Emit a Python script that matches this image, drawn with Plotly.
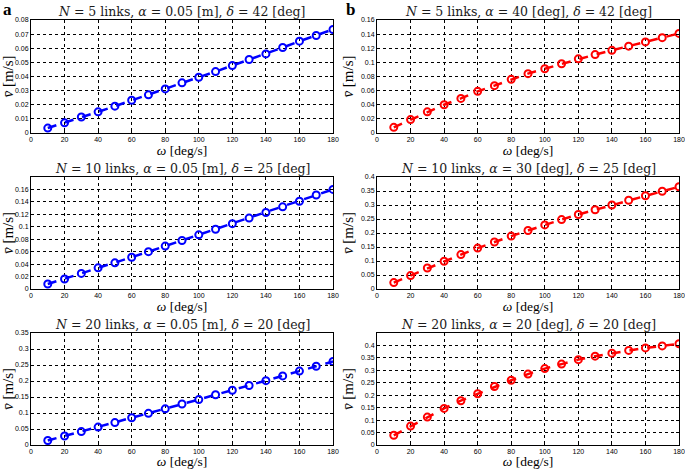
import plotly.graph_objects as go

# angular speed (deg/s)
omega = [10, 20, 30, 40, 50, 60, 70, 80, 90, 100, 110, 120, 130, 140, 150, 160, 170, 180]

# column a - alpha = 0.05 m (blue)
v_a_n5 = [0.0035, 0.0072, 0.0113, 0.015, 0.019, 0.0232, 0.027, 0.0312, 0.0355, 0.0395,
          0.0435, 0.0477, 0.052, 0.056, 0.0605, 0.065, 0.069, 0.0733]
v_a_n10 = [0.008, 0.016, 0.025, 0.034, 0.042, 0.051, 0.060, 0.069, 0.078, 0.087,
           0.096, 0.105, 0.114, 0.123, 0.132, 0.141, 0.151, 0.160]
v_a_n20 = [0.014, 0.028, 0.042, 0.056, 0.070, 0.085, 0.099, 0.113, 0.128, 0.142,
           0.157, 0.171, 0.186, 0.201, 0.216, 0.231, 0.246, 0.261]

# column b - alpha in deg (red)
v_b_n5 = [0.008, 0.019, 0.030, 0.040, 0.049, 0.059, 0.067, 0.076, 0.084, 0.091,
          0.098, 0.105, 0.111, 0.117, 0.123, 0.129, 0.135, 0.141]
v_b_n10 = [0.023, 0.048, 0.075, 0.099, 0.123, 0.146, 0.168, 0.189, 0.209, 0.229,
           0.248, 0.266, 0.283, 0.300, 0.317, 0.333, 0.349, 0.365]
v_b_n20 = [0.039, 0.076, 0.112, 0.147, 0.178, 0.206, 0.235, 0.260, 0.285, 0.307,
           0.325, 0.343, 0.357, 0.369, 0.380, 0.390, 0.398, 0.407]

titles = [
    "<i>N</i> = 5 links, <i>α</i> = 0.05 [m], <i>δ</i> = 42 [deg]",
    "<i>N</i> = 5 links, <i>α</i> = 40 [deg], <i>δ</i> = 42 [deg]",
    "<i>N</i> = 10 links, <i>α</i> = 0.05 [m], <i>δ</i> = 25 [deg]",
    "<i>N</i> = 10 links, <i>α</i> = 30 [deg], <i>δ</i> = 25 [deg]",
    "<i>N</i> = 20 links, <i>α</i> = 0.05 [m], <i>δ</i> = 20 [deg]",
    "<i>N</i> = 20 links, <i>α</i> = 20 [deg], <i>δ</i> = 20 [deg]",
]
series = [v_a_n5, v_b_n5, v_a_n10, v_b_n10, v_a_n20, v_b_n20]
colors = ["#0000ff", "#ff0000"] * 3
y_max = [0.08, 0.16, 0.18, 0.4, 0.35, 0.45]
y_step = [0.01, 0.02, 0.02, 0.05, 0.05, 0.05]
y_top_tick = [0.08, 0.16, 0.16, 0.4, 0.35, 0.4]
x_ticks = list(range(0, 181, 20))

W, H = 685, 469
x_dom = [(31 / W, 333 / W), (377 / W, 679 / W)]
rows_px = [(20, 133), (177, 289), (333, 445)]

serif = "Liberation Serif"
title_serif = "DejaVu Serif"
sans = "Liberation Sans"

fig = go.Figure()
layout = {}
annotations = []
for i in range(6):
    r, c = divmod(i, 2)
    top, bot = rows_px[r]
    xd = x_dom[c]
    yd = (1 - bot / H, 1 - top / H)
    n = str(i + 1) if i else ""
    fig.add_trace(go.Scatter(
        x=omega, y=series[i], mode="lines+markers",
        line=dict(color=colors[i], width=2.5, dash="dash"),
        marker=dict(symbol="circle-open", size=7, color=colors[i], line=dict(width=2)),
        xaxis="x" + n, yaxis="y" + n, showlegend=False,
    ))
    nt = int(round(y_top_tick[i] / y_step[i]))
    yt = [round(k * y_step[i], 4) for k in range(nt + 1)]
    axis_common = dict(
        showline=True, linecolor="black", linewidth=1, mirror="ticks",
        ticks="inside", ticklen=3, tickcolor="black", automargin=False,
        showgrid=True, gridcolor="black", griddash="dot", gridwidth=0.7,
        zeroline=False, tickfont=dict(family=sans, size=7, color="black"),
    )
    layout["xaxis" + n] = dict(
        domain=xd, anchor="y" + n, range=[0, 180], tickvals=x_ticks,
        title=dict(text="<i>ω</i> [deg/s]", font=dict(family=serif, size=13.5, color="black"), standoff=1),
        **axis_common,
    )
    layout["yaxis" + n] = dict(
        domain=yd, anchor="x" + n, range=[0, y_max[i]], tickvals=yt,
        ticktext=["%g" % v for v in yt],
        title=dict(text="<i>v̄</i> [m/s]", font=dict(family=serif, size=15, color="black"), standoff=3),
        **axis_common,
    )
    annotations.append(dict(
        x=(xd[0] + xd[1]) / 2, y=1 - (top - 8.5) / H, xref="paper", yref="paper",
        xanchor="center", yanchor="middle",
        text=titles[i], showarrow=False, font=dict(family=title_serif, size=12.5, color="#1a1a1a"),
    ))

annotations.append(dict(x=1 / W, y=1 - 9 / H, xref="paper", yref="paper", text="<b>a</b>",
                        showarrow=False, xanchor="left", yanchor="middle",
                        font=dict(family=serif, size=17, color="black")))
annotations.append(dict(x=344 / W, y=1 - 9 / H, xref="paper", yref="paper", text="<b>b</b>",
                        showarrow=False, xanchor="left", yanchor="middle",
                        font=dict(family=serif, size=17, color="black")))

fig.update_layout(
    width=W, height=H, margin=dict(l=0, r=0, t=0, b=0, autoexpand=False),
    plot_bgcolor="white", paper_bgcolor="white",
    annotations=annotations, **layout,
)
# drop the page's default body margin so the figure sits at the window corner
fig.write_html("out.html", config={"displayModeBar": False},
               post_script="document.body.style.margin='0';")
